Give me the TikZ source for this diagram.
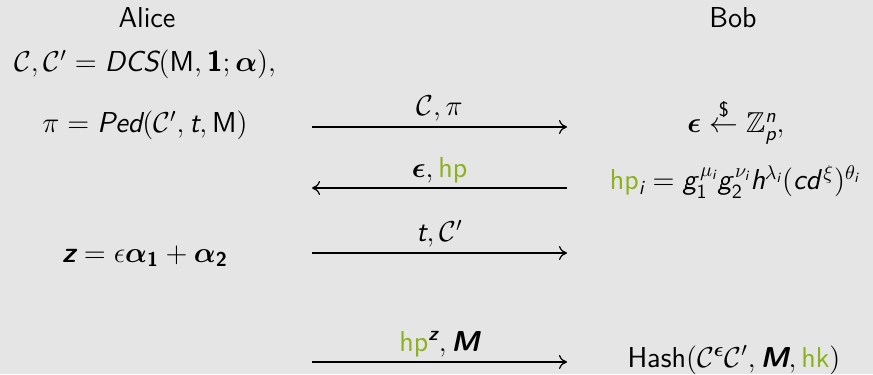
\documentclass[tikz,border=0pt]{standalone}
\usepackage{amsmath,amssymb}
\usetikzlibrary{arrows.meta}

% Letras y cifras en sans (como en beamer)
\DeclareSymbolFont{sfletters}{TU}{lmss}{m}{sl}
\SetSymbolFont{sfletters}{bold}{TU}{lmss}{bx}{sl}
\DeclareSymbolFont{sfdigits}{TU}{lmss}{m}{n}
\SetSymbolFont{sfdigits}{bold}{TU}{lmss}{bx}{n}
\makeatletter
\count@=`a
\loop\mathcode\count@=\numexpr"7000+\symsfletters*"100+\count@\relax
\ifnum\count@<`z \advance\count@\@ne\repeat
\count@=`A
\loop\mathcode\count@=\numexpr"7000+\symsfletters*"100+\count@\relax
\ifnum\count@<`Z \advance\count@\@ne\repeat
\count@=`0
\loop\mathcode\count@=\numexpr"7000+\symsfdigits*"100+\count@\relax
\ifnum\count@<`9 \advance\count@\@ne\repeat
\makeatother

\begin{document}
\begin{tikzpicture}[x=0.5pt, y=-0.5pt]
		% Colores
		\definecolor{bgpanel}{RGB}{229,229,229} % fondo gris claro
		\definecolor{hpgreen}{RGB}{140,177,30}  % verde de hp / hk
		\newcommand{\hp}{\textcolor{hpgreen}{\mathsf{hp}}}
		
		% --- Fondo ---
		\fill[bgpanel] (0,0) rectangle (873,374);
		
		\tikzset{
			txt/.style={font=\Large, anchor=base, inner sep=0pt},
			msg/.style={line width=0.6pt, -{Computer Modern Rightarrow[length=4pt,width=7pt]}},
			lbl/.style={txt, midway, yshift=5.5pt}
		}
		
		% --- Participantes ---
		\node[txt] (alice) at (147,28) {\sffamily Alice};
		\node[txt] (bob) at (733,28) {\sffamily Bob};
		
		% --- Lado de Alice ---
		\node[txt] (dcs) at (145,72) {$\mathcal{C},\mathcal{C}' = DCS(\mathsf{M},\boldsymbol{1};\boldsymbol{\alpha}),$};
		\node[txt] (ped) at (145,133) {$\pi = Ped(\mathcal{C}',t,\mathsf{M})$};
		\node[txt] (zeq) at (145,262) {$\boldsymbol{z} = \epsilon\boldsymbol{\alpha_1}+\boldsymbol{\alpha_2}$};
		
		% --- Lado de Bob ---
		\node[txt] (eps) at (736,133) {$\boldsymbol{\epsilon}\stackrel{\textsf{\$}}{\leftarrow}\mathbb{Z}_p^n,$};
		\node[txt] (hpi) at (735,190) {$\hp_i = g_1^{\,\mu_i}g_2^{\,\nu_i}h^{\lambda_i}(cd^{\,\xi})^{\theta_i}$};
		\node[txt] (hash) at (734,367) {$\mathsf{Hash}(\mathcal{C}^{\boldsymbol{\epsilon}}\mathcal{C}',\boldsymbol{M},\textcolor{hpgreen}{\mathsf{hk}})$};
		
		% --- Extremos de los mensajes ---
		\coordinate (A1) at (312,127); \coordinate (B1) at (567,127);
		\coordinate (A2) at (312,188); \coordinate (B2) at (567,188);
		\coordinate (A3) at (312,253); \coordinate (B3) at (567,253);
		\coordinate (A4) at (312,362); \coordinate (B4) at (567,362);
		
		% --- Mensajes ---
		\draw[msg] (A1) -- node[lbl] (m1) {$\mathcal{C},\pi$} (B1);
		\draw[msg] (B2) -- node[lbl] (m2) {$\boldsymbol{\epsilon},\hp$} (A2);
		\draw[msg] (A3) -- node[lbl] (m3) {$t,\mathcal{C}'$} (B3);
		\draw[msg] (A4) -- node[lbl] (m4) {$\hp^{\boldsymbol{z}},\boldsymbol{M}$} (B4);
		
	\end{tikzpicture}
\end{document}
